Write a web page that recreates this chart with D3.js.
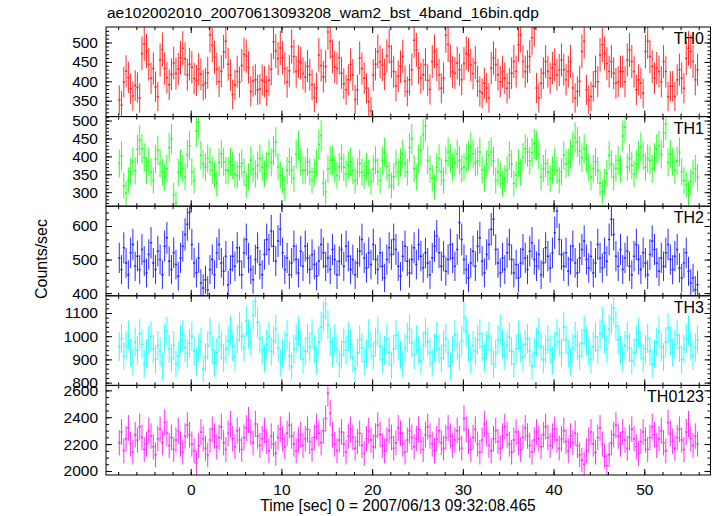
<!DOCTYPE html>
<html><head><meta charset="utf-8">
<script src="https://cdn.jsdelivr.net/npm/d3@7"></script>
<style>
body{margin:0;background:#fff}
text{font-family:"Liberation Sans",Arial,Helvetica,sans-serif}
</style>
</head><body>
<svg id="chart" width="717" height="516"></svg>
<script>
const titleText = "ae102002010_20070613093208_wam2_bst_4band_16bin.qdp";
const xLabelText = "Time [sec] 0 = 2007/06/13 09:32:08.465";
const yLabelText = "Counts/sec";
const binSize = 0.25;
const firstBinCenter = -7.875;
const xDomain = [-9.34, 57.3];
const xMajorTicks = [0, 10, 20, 30, 40, 50];
const panelNames = ["TH0", "TH1", "TH2", "TH3", "TH0123"];
const panelColors = ["#ff2a2a", "#2aff2a", "#2a2aff", "#2affff", "#ff2aff"];

const th0 = [352,338,398,426,410,381,362,389,384,357,472,497,478,444,408,433,
386,361,455,482,433,409,391,418,447,420,432,461,485,458,417,444,
436,407,402,431,418,390,395,422,520,493,462,432,399,426,476,503,
444,416,366,391,425,398,441,469,465,436,374,400,404,378,380,403,
399,375,403,431,502,478,459,486,461,433,398,427,490,464,425,451,
447,420,411,439,417,391,358,383,468,441,412,438,527,503,464,437,
433,461,421,394,378,404,443,417,353,378,460,433,408,382,347,324,
416,444,477,450,442,418,465,490,451,425,388,413,438,464,400,374,
404,430,506,481,434,408,417,443,403,379,451,477,443,417,382,408,
519,495,452,424,421,447,430,404,446,472,468,442,420,448,400,374,
369,395,383,357,434,460,443,417,399,425,408,382,395,421,451,425,
494,520,451,425,438,464,512,536,383,357,395,421,451,425,408,434,
443,417,429,455,430,404,425,451,383,357,374,400,477,503,378,352,
361,387,425,399,468,494,472,446,425,451,421,395,399,425,425,399,
455,481,451,425,378,404,395,369,477,503,464,438,408,434,425,399,
451,425,361,387,387,361,404,430,408,382,459,485,477,451,404,430];

const th1 = [380,402,318,297,333,357,386,360,420,445,421,397,361,385,357,333,
393,417,380,356,342,366,425,449,292,270,356,380,366,342,406,430,
357,333,471,495,403,379,370,394,385,361,348,324,383,407,385,361,
361,385,375,351,347,371,380,356,319,343,389,365,351,375,394,370,
351,375,407,383,416,440,371,347,334,310,361,385,362,338,406,430,
385,361,361,385,357,333,356,380,434,458,325,301,365,389,389,365,
347,371,394,370,351,375,385,361,333,357,380,356,347,371,353,329,
365,389,357,333,388,412,371,347,319,343,380,356,383,407,380,356,
425,449,366,342,393,417,461,485,389,365,339,315,370,394,357,333,
388,412,394,370,383,407,389,365,370,394,402,426,407,383,388,412,
362,338,379,403,412,388,333,357,348,324,338,362,403,379,324,348,
380,356,397,421,412,388,411,435,430,406,342,366,380,356,338,362,
385,361,333,357,403,379,383,407,429,453,440,416,397,421,394,370,
342,366,385,361,325,301,329,353,403,379,342,366,389,365,457,481,
370,394,375,351,379,403,426,402,370,394,389,365,397,421,430,406,
466,490,383,407,385,361,388,412,357,333,320,296,329,353,366,342];

const th2 = [505,470,535,490,455,520,545,480,510,470,530,495,460,515,550,490,
470,525,500,455,540,565,495,470,520,485,450,505,540,575,605,640,
545,490,460,505,430,415,440,410,470,500,455,520,545,490,465,510,
425,470,510,480,535,495,455,520,560,505,470,440,500,535,485,455,
515,560,530,585,540,495,555,590,520,470,505,455,490,540,500,460,
525,480,540,505,470,515,485,450,495,545,520,480,505,470,530,500,
455,495,530,480,540,510,470,500,455,490,525,560,505,475,520,485,
545,500,470,520,480,445,500,535,515,560,530,480,450,510,540,495,
460,500,535,485,545,510,475,520,490,455,505,540,570,520,480,510,
465,500,545,505,480,530,610,560,500,470,445,490,525,480,540,565,
495,460,515,545,590,620,530,490,460,505,470,520,545,500,460,485,
445,490,530,505,470,525,550,500,480,515,455,490,535,510,475,520,
580,645,560,515,480,520,465,500,540,490,460,505,530,555,500,475,
510,460,490,545,505,475,520,495,560,620,575,510,480,530,470,505,
525,480,455,510,545,500,470,520,490,455,515,555,530,490,465,505,
480,520,545,500,470,510,530,475,445,490,520,465,430,445,410,425];

const th3 = [955,990,915,960,1005,930,890,975,940,1010,965,880,925,985,1000,945,
900,960,935,870,990,1020,945,905,960,880,915,985,1005,950,925,970,
1000,935,890,950,975,860,910,960,1015,940,885,930,995,960,905,945,
980,1025,955,910,985,1040,1000,950,1065,1010,975,1090,1150,1060,990,940,
905,965,1000,935,980,1030,950,885,925,960,1005,915,870,945,990,1020,
960,900,935,990,955,1010,945,895,975,1040,1085,1140,1050,975,930,990,
945,880,920,975,940,1000,965,905,860,930,985,950,890,925,1010,960,
915,975,1020,955,900,940,990,930,875,945,1005,960,920,880,950,995,
1030,970,920,985,940,895,960,1015,975,930,885,950,1000,945,905,960,
990,925,870,940,1005,960,915,980,1080,1020,950,900,960,935,985,1010,
955,905,960,1000,940,880,925,985,1030,965,915,960,995,935,880,945,
1005,950,910,965,990,935,870,930,975,1015,955,900,945,985,940,895,
960,1010,975,930,1040,985,925,890,950,1000,960,915,970,1025,980,935,
900,955,995,940,1010,1060,990,945,1030,1075,1120,1045,985,940,905,960,
1000,950,895,930,985,1015,960,905,945,990,935,880,925,975,1020,955,
910,975,1035,980,930,965,1005,950,900,945,990,1025,960,915,950,985];

const th0123 = [2210,2290,2150,2240,2320,2200,2140,2270,2230,2330,2250,2160,2200,2300,2260,2180,
2120,2240,2310,2210,2360,2280,2190,2250,2160,2230,2300,2200,2140,2260,2340,2270,
2200,2150,2060,2190,2290,2240,2170,2120,2230,2310,2260,2180,2250,2330,2210,2160,
2280,2350,2240,2180,2300,2230,2160,2250,2320,2380,2290,2210,2350,2260,2190,2240,
2300,2220,2150,2260,2200,2130,2250,2310,2240,2180,2280,2340,2260,2200,2150,2230,
2270,2190,2240,2310,2220,2160,2250,2330,2280,2210,2300,2390,2580,2430,2270,2200,
2150,2230,2290,2200,2140,2260,2310,2250,2170,2220,2280,2190,2130,2240,2300,2230,
2180,2260,2340,2270,2190,2150,2230,2300,2250,2170,2210,2320,2280,2200,2140,2230,
2300,2250,2180,2240,2310,2220,2160,2270,2330,2260,2200,2150,2240,2300,2210,2170,
2250,2320,2260,2190,2230,2300,2240,2170,2390,2310,2220,2160,2250,2310,2200,2140,
2230,2350,2280,2190,2150,2240,2300,2220,2170,2260,2330,2270,2200,2140,2230,2290,
2210,2160,2250,2320,2260,2190,2140,2230,2290,2240,2180,2270,2330,2250,2190,2260,
2310,2230,2170,2240,2300,2220,2150,2260,2210,2280,2190,2120,2080,2050,2150,2230,
2290,2200,2140,2250,2320,2200,2110,2040,2120,2210,2270,2340,2260,2200,2290,2230,
2170,2250,2310,2240,2180,2130,2220,2290,2230,2160,2250,2330,2270,2190,2240,2300,
2210,2150,2360,2280,2220,2170,2250,2310,2230,2160,2290,2350,2240,2190,2260,2200];

const seriesValues = [th0, th1, th2, th3, th0123];
const yDomains = [[309, 540], [261, 511], [392, 659], [788, 1174], [1970, 2637]];
const yMajorTicks = [[350,400,450,500],[300,350,400,450,500],[400,500,600],[800,900,1000,1100],[2000,2200,2400,2600]];
const yMinorSteps = [10, 10, 20, 20, 50];
const yMajorSteps = [50, 50, 100, 100, 200];

const svg = d3.select("#chart");
const left = 106, right = 710.5, top0 = 27, bottom = 475;
const ph = (bottom - top0) / 5;
const x = d3.scaleLinear().domain(xDomain).range([left, right]);
const xMinor = d3.range(-8, 57, 2);

svg.append("text").attr("x", 107).attr("y", 18).attr("font-size", 15.5).text(titleText);

seriesValues.forEach((vals, p) => {
  const pt = top0 + p * ph, pb = pt + ph;
  const y = d3.scaleLinear().domain(yDomains[p]).range([pb, pt]);
  const g = svg.append("g");
  const clipId = "clip" + p;
  svg.append("clipPath").attr("id", clipId).append("rect")
    .attr("x", left).attr("y", pt).attr("width", right - left).attr("height", ph);
  const data = vals.map((v, i) => ({t: firstBinCenter + i * binSize, v: v, e: Math.sqrt(v * binSize) / binSize}));
  const dg = g.append("g").attr("clip-path", `url(#${clipId})`)
    .attr("stroke", panelColors[p]).attr("stroke-width", 1);
  dg.selectAll("line.v").data(data).enter().append("line").attr("class", "v")
    .attr("x1", d => x(d.t)).attr("x2", d => x(d.t))
    .attr("y1", d => y(d.v - d.e)).attr("y2", d => y(d.v + d.e));
  dg.selectAll("line.h").data(data).enter().append("line").attr("class", "h")
    .attr("x1", d => x(d.t - binSize / 2)).attr("x2", d => x(d.t + binSize / 2))
    .attr("y1", d => y(d.v)).attr("y2", d => y(d.v)).attr("stroke-width", 1.5);

  const [y0, y1] = yDomains[p];
  const minorY = d3.range(Math.ceil(y0 / yMinorSteps[p]) * yMinorSteps[p], y1, yMinorSteps[p]);
  const majorYAll = minorY.filter(v => v % yMajorSteps[p] === 0);

  const styleAxis = sel => { sel.select(".domain").remove(); sel.selectAll("line").attr("stroke", "#000"); };

  g.append("g").attr("transform", `translate(${left},0)`)
    .call(d3.axisLeft(y).tickValues(minorY).tickSize(-3).tickFormat("")).call(styleAxis);
  g.append("g").attr("transform", `translate(${left},0)`)
    .call(d3.axisLeft(y).tickValues(majorYAll).tickSize(-6).tickFormat("")).call(styleAxis);
  const lab = g.append("g").attr("transform", `translate(${left},0)`)
    .call(d3.axisLeft(y).tickValues(yMajorTicks[p]).tickSize(0).tickPadding(8).tickFormat(d3.format("d"))).call(styleAxis);
  lab.selectAll("text").attr("font-size", 15.5).attr("fill", "#000")
    .attr("font-family", "'Liberation Sans',Arial,sans-serif");
  g.append("g").attr("transform", `translate(${right},0)`)
    .call(d3.axisRight(y).tickValues(minorY).tickSize(-3).tickFormat("")).call(styleAxis);
  g.append("g").attr("transform", `translate(${right},0)`)
    .call(d3.axisRight(y).tickValues(majorYAll).tickSize(-6).tickFormat("")).call(styleAxis);
  g.append("g").attr("transform", `translate(0,${pt})`)
    .call(d3.axisTop(x).tickValues(xMinor).tickSize(-3).tickFormat("")).call(styleAxis);
  g.append("g").attr("transform", `translate(0,${pt})`)
    .call(d3.axisTop(x).tickValues(xMajorTicks).tickSize(-6).tickFormat("")).call(styleAxis);
  g.append("g").attr("transform", `translate(0,${pb})`)
    .call(d3.axisBottom(x).tickValues(xMinor).tickSize(-3).tickFormat("")).call(styleAxis);
  const bx = g.append("g").attr("transform", `translate(0,${pb})`)
    .call(d3.axisBottom(x).tickValues(xMajorTicks).tickSize(-6).tickPadding(9)
      .tickFormat(p === 4 ? d3.format("d") : "")).call(styleAxis);
  bx.selectAll("text").attr("font-size", 15.5).attr("fill", "#000")
    .attr("font-family", "'Liberation Sans',Arial,sans-serif");

  g.append("rect").attr("x", left).attr("y", pt).attr("width", right - left).attr("height", ph)
    .attr("fill", "none").attr("stroke", "#000").attr("stroke-width", 1);

  g.append("text").attr("x", 704).attr("y", pt + 17).attr("text-anchor", "end")
    .attr("font-size", 16).text(panelNames[p]);
});

svg.append("text").attr("transform", "translate(47,259) rotate(-90)")
  .attr("text-anchor", "middle").attr("font-size", 16).text(yLabelText);
svg.append("text").attr("x", 398).attr("y", 511).attr("text-anchor", "middle")
  .attr("font-size", 15.6).text(xLabelText);
</script>
</body></html>
